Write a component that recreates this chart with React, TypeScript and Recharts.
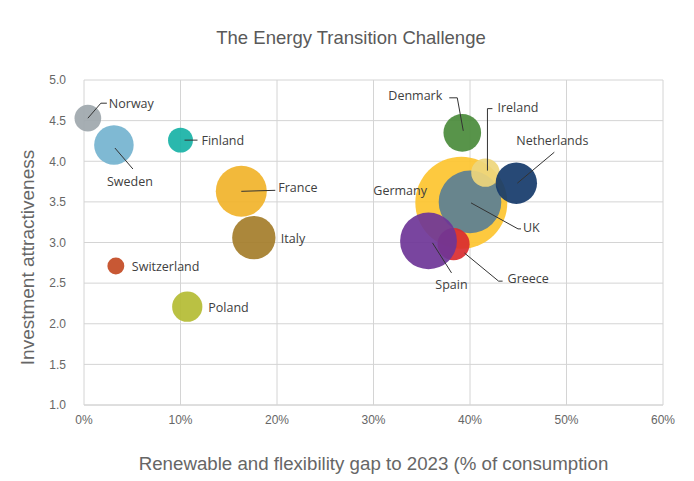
import { ScatterChart, Scatter, XAxis, YAxis, ZAxis, CartesianGrid, Cell } from 'recharts';

// drawing order matters: big bubbles first, overlapping ones on top
const countries = ['Germany', 'UK', 'Ireland', 'Netherlands', 'Greece', 'Spain', 'Denmark', 'Norway', 'Sweden', 'Finland', 'France', 'Italy', 'Switzerland', 'Poland'];
const gapPct = [39.1, 40.0, 41.6, 44.8, 38.3, 35.7, 39.2, 0.4, 3.1, 10.0, 16.3, 17.6, 3.3, 10.7];
const attractiveness = [3.49, 3.5, 3.86, 3.73, 2.98, 3.02, 4.35, 4.53, 4.2, 4.26, 3.63, 3.06, 2.71, 2.21];
const bubbleSize = [2116, 961, 169, 400, 225, 784, 324, 144, 361, 121, 625, 441, 36, 196];

const xTicks = [0, 10, 20, 30, 40, 50, 60];
const yTicks = [1, 1.5, 2, 2.5, 3, 3.5, 4, 4.5, 5];

const COLORS: Record<string, string> = {
    Germany: '#fdc42f',
    Ireland: '#eed67c',
    UK: '#5b7f94',
    Netherlands: '#15396a',
    Greece: '#d92b2f',
    Spain: '#6e3597',
    Denmark: '#4a8b3b',
    Norway: '#9ea7ad',
    Sweden: '#74b3cf',
    Finland: '#18b2a6',
    France: '#f1b32a',
    Italy: '#a47d2a',
    Switzerland: '#c34a23',
    Poland: '#b4bc33',
};

type LabelLayout = { line?: number[][]; text: number[]; anchor: 'start' | 'middle' | 'end' };

// label offsets relative to bubble centre
const LABELS: Record<string, LabelLayout> = {
    Norway: { line: [[0, 0], [13, -15], [19, -15]], text: [21, -15], anchor: 'start' },
    Sweden: { line: [[1, 3], [19, 24]], text: [16, 36], anchor: 'middle' },
    Finland: { line: [[4, 0], [17, 0]], text: [21, 0], anchor: 'start' },
    France: { line: [[0, 0], [34, -1]], text: [37, -4], anchor: 'start' },
    Italy: { text: [27, 1], anchor: 'start' },
    Switzerland: { text: [16, 0], anchor: 'start' },
    Poland: { text: [21, 1], anchor: 'start' },
    Denmark: { line: [[-13, -35], [-5, -35], [1, -2]], text: [-20, -37], anchor: 'end' },
    Ireland: { line: [[7, -64], [2, -64], [2, -2]], text: [12, -65], anchor: 'start' },
    Netherlands: { line: [[1, 0], [38, -31]], text: [0, -43], anchor: 'start' },
    Germany: { text: [-88, -12], anchor: 'start' },
    UK: { line: [[1, 1], [48, 27], [51, 27]], text: [53, 26], anchor: 'start' },
    Greece: { line: [[11, 9], [45, 37], [49, 37]], text: [54, 34], anchor: 'start' },
    Spain: { line: [[4, 2], [23, 32]], text: [23, 44], anchor: 'middle' },
};

const data = countries.map((name, i) => ({
    name,
    gap: gapPct[i],
    score: attractiveness[i],
    size: bubbleSize[i],
}));

// z domain comes from the data, so map min..max onto matching areas (radius = sqrt(size))
const zRange = [Math.min(...bubbleSize) * Math.PI, Math.max(...bubbleSize) * Math.PI];

const tickStyle = { fontFamily: 'Liberation Sans Narrow, Liberation Sans', fontSize: 12, fill: '#666' };

function CountryLabel(props: any) {
    const { cx, cy, payload } = props;
    const lay = LABELS[payload?.name];
    if (!lay || cx == null) return null;
    return (
        <g>
            {lay.line && (
                <polyline
                    points={lay.line.map(([dx, dy]) => `${cx + dx},${cy + dy}`).join(' ')}
                    fill="none"
                    stroke="#333"
                    strokeWidth={1}
                />
            )}
            <text
                x={cx + lay.text[0]}
                y={cy + lay.text[1]}
                textAnchor={lay.anchor}
                dominantBaseline="central"
                fontFamily="Open Sans"
                fontSize={12.5}
                fill="#404040"
            >
                {payload.name}
            </text>
        </g>
    );
}

export default function App() {
    return (
        <div style={{ position: 'absolute', left: 0, top: 0, width: 694, height: 481, background: '#fff' }}>
            <div
                style={{
                    position: 'absolute',
                    top: 28,
                    left: 4,
                    width: 694,
                    textAlign: 'center',
                    fontFamily: 'Liberation Sans',
                    fontSize: 18.5,
                    lineHeight: '20px',
                    color: '#595959',
                }}
            >
                The Energy Transition Challenge
            </div>
            <ScatterChart width={694} height={481} margin={{ top: 80, right: 31, left: 0, bottom: 0 }}>
                <CartesianGrid stroke="#d4d4d4" />
                <XAxis
                    type="number"
                    dataKey="gap"
                    domain={[0, 60]}
                    ticks={xTicks}
                    tickFormatter={(v) => `${v}%`}
                    height={76}
                    axisLine={{ stroke: '#d4d4d4' }}
                    tickLine={false}
                    tickMargin={4}
                    tick={tickStyle}
                    label={{
                        value: 'Renewable and flexibility gap to 2023 (% of consumption',
                        position: 'insideBottom',
                        offset: 11,
                        fontFamily: 'Liberation Sans',
                        fontSize: 18.7,
                        fill: '#666',
                    }}
                />
                <YAxis
                    type="number"
                    dataKey="score"
                    domain={[1, 5]}
                    ticks={yTicks}
                    tickFormatter={(v) => Number(v).toFixed(1)}
                    width={84}
                    axisLine={false}
                    tickLine={false}
                    tickMargin={12}
                    tick={tickStyle}
                    label={{
                        content: (p: any) => {
                            const vb = p.viewBox || { x: 0, y: 80, width: 84, height: 325 };
                            const y = vb.y + vb.height / 2 + 15;
                            return (
                                <text
                                    x={27}
                                    y={y}
                                    transform={`rotate(-90 27 ${y})`}
                                    textAnchor="middle"
                                    dominantBaseline="central"
                                    fontFamily="Liberation Sans"
                                    fontSize={19}
                                    fill="#666"
                                >
                                    Investment attractiveness
                                </text>
                            );
                        },
                    }}
                />
                <ZAxis type="number" dataKey="size" range={zRange} />
                <Scatter data={data} isAnimationActive={false} fillOpacity={0.92}>
                    {data.map((d) => (
                        <Cell key={d.name} fill={COLORS[d.name]} />
                    ))}
                </Scatter>
                <Scatter data={data} isAnimationActive={false} shape={CountryLabel} />
            </ScatterChart>
        </div>
    );
}
